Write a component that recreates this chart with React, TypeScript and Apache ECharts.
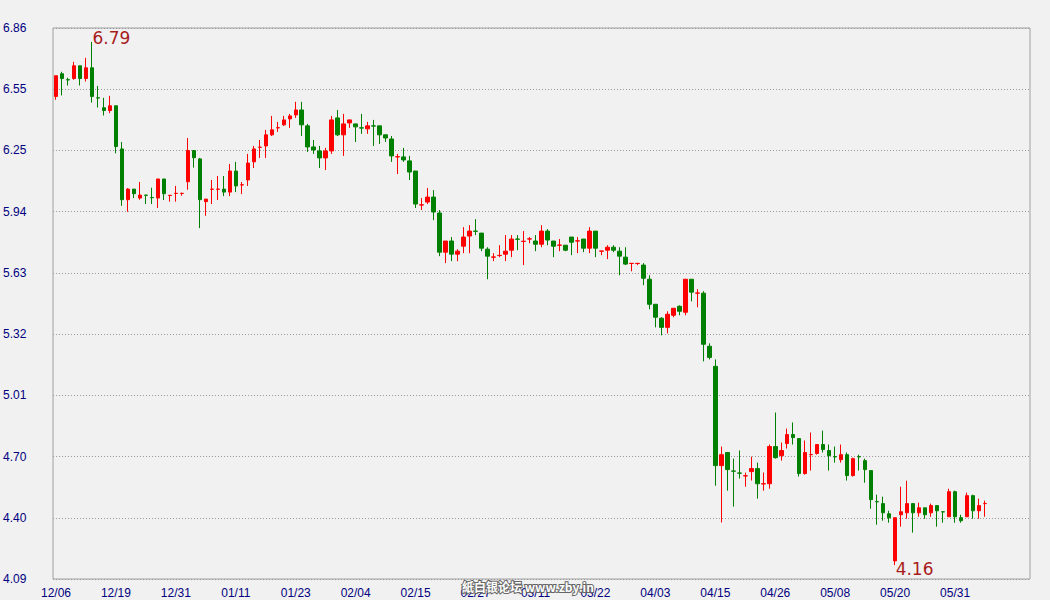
import React, { useEffect, useRef } from 'react';
import * as echarts from 'echarts';

const dates = (
  '12/06 12/07 12/10 12/11 12/12 12/13 12/14 12/15 12/17 12/18 ' +
  '12/19 12/20 12/21 12/22 12/24 12/25 12/26 12/27 12/28 12/29 ' +
  '12/31 01/01 01/02 01/03 01/04 01/05 01/07 01/08 01/09 01/10 ' +
  '01/11 01/12 01/14 01/15 01/16 01/17 01/18 01/19 01/21 01/22 ' +
  '01/23 01/24 01/25 01/26 01/28 01/29 01/30 01/31 02/01 02/02 ' +
  '02/04 02/05 02/06 02/07 02/08 02/09 02/11 02/12 02/13 02/14 ' +
  '02/15 02/16 02/18 02/19 02/20 02/21 02/22 02/23 02/25 02/26 ' +
  '02/27 02/28 03/01 03/02 03/04 03/05 03/06 03/07 03/08 03/09 ' +
  '03/11 03/12 03/13 03/14 03/15 03/16 03/18 03/19 03/20 03/21 ' +
  '03/22 03/23 03/25 03/26 03/27 03/28 03/29 03/30 04/01 04/02 ' +
  '04/03 04/04 04/05 04/06 04/08 04/09 04/10 04/11 04/12 04/13 ' +
  '04/15 04/16 04/17 04/18 04/19 04/20 04/22 04/23 04/24 04/25 ' +
  '04/26 04/27 04/29 04/30 05/01 05/02 05/03 05/04 05/06 05/07 ' +
  '05/08 05/09 05/10 05/11 05/13 05/14 05/15 05/16 05/17 05/18 ' +
  '05/20 05/21 05/22 05/23 05/24 05/25 05/27 05/28 05/29 05/30 ' +
  '05/31 06/01 06/03 06/04 06/05 06/06'
).split(' ');

// empty slots to the right of the last candle
const emptySlots = ['', '', '', '', '', '', ''];

const opens = [
  6.516, 6.630, 6.600, 6.606, 6.670, 6.606, 6.660, 6.509, 6.459, 6.445,
  6.469, 6.252, 5.997, 6.050, 6.005, 6.020, 6.008, 6.005, 6.101, 6.018,
  6.028, 6.028, 6.087, 6.244, 6.202, 5.987, 6.049, 6.049, 6.050, 6.035,
  6.141, 6.071, 6.096, 6.187, 6.260, 6.267, 6.323, 6.358, 6.373, 6.403,
  6.423, 6.448, 6.368, 6.262, 6.242, 6.207, 6.242, 6.408, 6.323, 6.383,
  6.378, 6.358, 6.353, 6.368, 6.368, 6.323, 6.302, 6.212, 6.212, 6.192,
  6.141, 5.970, 5.985, 6.010, 5.930, 5.733, 5.789, 5.723, 5.763, 5.814,
  5.839, 5.829, 5.748, 5.708, 5.716, 5.723, 5.743, 5.799, 5.787, 5.799,
  5.789, 5.773, 5.839, 5.789, 5.768, 5.768, 5.809, 5.789, 5.799, 5.753,
  5.839, 5.738, 5.743, 5.758, 5.738, 5.708, 5.676, 5.676, 5.668, 5.597,
  5.471, 5.401, 5.355, 5.416, 5.461, 5.431, 5.597, 5.527, 5.527, 5.260,
  5.159, 4.660, 4.726, 4.633, 4.623, 4.608, 4.630, 4.645, 4.568, 4.569,
  4.756, 4.710, 4.771, 4.816, 4.796, 4.620, 4.715, 4.721, 4.766, 4.736,
  4.705, 4.690, 4.715, 4.610, 4.705, 4.685, 4.635, 4.479, 4.469, 4.418,
  4.181, 4.413, 4.423, 4.469, 4.423, 4.448, 4.423, 4.459, 4.428, 4.403,
  4.529, 4.398, 4.403, 4.509, 4.433, 4.469,
];

const closes = [
  6.620, 6.606, 6.599, 6.670, 6.606, 6.660, 6.516, 6.508, 6.445, 6.469,
  6.264, 5.997, 6.050, 6.027, 6.020, 6.019, 6.007, 6.101, 6.027, 6.019,
  6.029, 6.029, 6.244, 6.208, 5.997, 6.000, 6.050, 6.050, 6.035, 6.141,
  6.066, 6.072, 6.181, 6.252, 6.261, 6.323, 6.348, 6.359, 6.398, 6.418,
  6.448, 6.373, 6.262, 6.247, 6.207, 6.242, 6.398, 6.323, 6.378, 6.398,
  6.363, 6.357, 6.368, 6.367, 6.323, 6.307, 6.217, 6.213, 6.197, 6.136,
  5.975, 5.971, 6.010, 5.935, 5.733, 5.789, 5.723, 5.738, 5.809, 5.839,
  5.838, 5.753, 5.713, 5.709, 5.717, 5.738, 5.799, 5.798, 5.788, 5.800,
  5.773, 5.839, 5.794, 5.763, 5.769, 5.743, 5.783, 5.790, 5.753, 5.839,
  5.753, 5.739, 5.758, 5.743, 5.713, 5.673, 5.677, 5.677, 5.602, 5.471,
  5.406, 5.355, 5.421, 5.451, 5.436, 5.597, 5.532, 5.528, 5.270, 5.204,
  4.660, 4.715, 4.640, 4.632, 4.622, 4.609, 4.645, 4.569, 4.569, 4.756,
  4.700, 4.736, 4.816, 4.801, 4.620, 4.726, 4.716, 4.766, 4.741, 4.710,
  4.704, 4.715, 4.610, 4.695, 4.704, 4.640, 4.489, 4.478, 4.423, 4.398,
  4.398, 4.428, 4.469, 4.423, 4.448, 4.413, 4.459, 4.433, 4.427, 4.529,
  4.403, 4.383, 4.509, 4.433, 4.459, 4.470,
];

const lows = [
  6.499, 6.521, 6.571, 6.600, 6.571, 6.591, 6.485, 6.460, 6.420, 6.432,
  6.230, 5.966, 5.936, 6.005, 5.997, 5.975, 5.975, 5.955, 5.995, 5.987,
  5.987, 6.017, 6.047, 6.158, 5.854, 5.916, 5.975, 5.995, 6.015, 6.015,
  6.035, 6.025, 6.066, 6.156, 6.207, 6.207, 6.317, 6.338, 6.368, 6.358,
  6.408, 6.317, 6.237, 6.227, 6.156, 6.146, 6.227, 6.317, 6.217, 6.358,
  6.287, 6.328, 6.328, 6.267, 6.277, 6.287, 6.187, 6.126, 6.187, 6.096,
  5.955, 5.945, 5.975, 5.894, 5.713, 5.678, 5.688, 5.688, 5.728, 5.728,
  5.819, 5.738, 5.597, 5.688, 5.708, 5.688, 5.708, 5.743, 5.668, 5.778,
  5.738, 5.758, 5.768, 5.708, 5.738, 5.738, 5.718, 5.728, 5.733, 5.728,
  5.708, 5.718, 5.698, 5.733, 5.617, 5.668, 5.637, 5.668, 5.567, 5.446,
  5.355, 5.315, 5.325, 5.406, 5.416, 5.416, 5.486, 5.456, 5.184, 5.194,
  4.559, 4.374, 4.534, 4.454, 4.595, 4.554, 4.585, 4.494, 4.534, 4.544,
  4.695, 4.685, 4.746, 4.766, 4.605, 4.615, 4.635, 4.715, 4.726, 4.635,
  4.675, 4.675, 4.585, 4.605, 4.635, 4.574, 4.443, 4.363, 4.383, 4.373,
  4.160, 4.353, 4.393, 4.323, 4.403, 4.393, 4.403, 4.353, 4.373, 4.403,
  4.373, 4.373, 4.403, 4.393, 4.393, 4.403,
];

const highs = [
  6.620, 6.640, 6.610, 6.690, 6.670, 6.710, 6.790, 6.569, 6.509, 6.519,
  6.469, 6.287, 6.055, 6.050, 6.086, 6.020, 6.057, 6.101, 6.101, 6.019,
  6.066, 6.032, 6.307, 6.244, 6.207, 6.000, 6.096, 6.116, 6.116, 6.176,
  6.187, 6.086, 6.227, 6.267, 6.297, 6.348, 6.418, 6.388, 6.418, 6.428,
  6.489, 6.489, 6.378, 6.297, 6.267, 6.257, 6.418, 6.448, 6.428, 6.398,
  6.378, 6.428, 6.388, 6.398, 6.368, 6.323, 6.317, 6.227, 6.257, 6.217,
  6.141, 6.005, 6.056, 6.045, 5.945, 5.789, 5.809, 5.748, 5.859, 5.869,
  5.899, 5.829, 5.758, 5.728, 5.768, 5.819, 5.819, 5.819, 5.839, 5.809,
  5.819, 5.869, 5.849, 5.789, 5.799, 5.768, 5.809, 5.809, 5.799, 5.859,
  5.839, 5.739, 5.768, 5.768, 5.758, 5.758, 5.677, 5.677, 5.678, 5.617,
  5.471, 5.406, 5.436, 5.451, 5.466, 5.597, 5.597, 5.547, 5.537, 5.275,
  5.194, 4.756, 4.726, 4.695, 4.736, 4.625, 4.705, 4.675, 4.625, 4.766,
  4.927, 4.776, 4.846, 4.877, 4.796, 4.786, 4.826, 4.766, 4.836, 4.766,
  4.756, 4.766, 4.726, 4.700, 4.715, 4.695, 4.635, 4.514, 4.504, 4.433,
  4.398, 4.554, 4.584, 4.469, 4.474, 4.448, 4.469, 4.459, 4.428, 4.544,
  4.534, 4.413, 4.524, 4.514, 4.494, 4.484,
];

const yTickLabels = ['4.09', '4.40', '4.70', '5.01', '5.32', '5.63', '5.94', '6.25', '6.55', '6.86'];
const yMin = 4.09;
const yMax = 6.86;
const watermark = '紙白银论坛 www.zby.in';

const RED = '#ff0000';
const GREEN = '#008000';
const NAVY = '#000080';

export default function App() {
  const ref = useRef<HTMLDivElement>(null);

  useEffect(() => {
    if (!ref.current) return;
    const chart = echarts.init(ref.current, undefined, { renderer: 'svg' });
    const categories = dates.concat(emptySlots);
    const candles = dates.map((_, i) => [opens[i], closes[i], lows[i], highs[i]]);
    const step = (yMax - yMin) / 9 + 1e-7;

    chart.setOption({
      animation: false,
      backgroundColor: '#f1f1f1',
      grid: {
        show: true,
        left: 52,
        right: 20,
        top: 28,
        bottom: 21,
        borderColor: '#a0a0a0',
        borderWidth: 1,
        backgroundColor: 'transparent',
      },
      xAxis: {
        type: 'category',
        data: categories,
        boundaryGap: true,
        axisLine: { show: false },
        axisTick: { show: false },
        splitLine: { show: false },
        axisLabel: {
          interval: 9,
          color: NAVY,
          fontSize: 12,
          fontFamily: 'Liberation Sans',
          margin: 8,
        },
      },
      yAxis: {
        type: 'value',
        min: yMin,
        max: yMax,
        interval: step,
        scale: true,
        axisLine: { show: false },
        axisTick: { show: false },
        splitLine: {
          show: true,
          lineStyle: { color: '#999999', type: [1, 2], width: 1 },
        },
        axisLabel: {
          color: NAVY,
          fontSize: 12,
          fontFamily: 'Liberation Sans',
          align: 'left',
          margin: 50,
          formatter: (v: number, idx: number) => yTickLabels[idx] ?? v.toFixed(2),
        },
      },
      series: [
        {
          type: 'candlestick',
          data: candles,
          barWidth: 4,
          itemStyle: {
            color: RED,
            color0: GREEN,
            borderColor: RED,
            borderColor0: GREEN,
            borderWidth: 1,
          },
          markPoint: {
            symbol: 'rect',
            symbolSize: 1,
            itemStyle: { color: 'transparent' },
            label: {
              show: true,
              color: '#a81c1c',
              fontSize: 17,
              fontFamily: 'DejaVu Sans',
              formatter: (p: any) => Number(p.value).toFixed(2),
            },
            data: [
              {
                type: 'max',
                valueDim: 'highest',
                label: { position: [1, 5], align: 'left', verticalAlign: 'bottom' },
              },
              {
                type: 'min',
                valueDim: 'lowest',
                label: { position: [1, -4], align: 'left', verticalAlign: 'top' },
              },
            ],
          },
        },
      ],
      graphic: [
        {
          type: 'text',
          left: 461,
          top: 579,
          z: 100,
          style: {
            text: watermark,
            font: 'bold 12px "Noto Sans CJK SC"',
            fill: '#ffffff',
            stroke: '#666666',
            lineWidth: 2,
          },
        },
      ],
    });

    return () => chart.dispose();
  }, []);

  return (
    <div
      ref={ref}
      style={{ position: 'absolute', left: 0, top: 0, width: 1050, height: 600 }}
    />
  );
}
